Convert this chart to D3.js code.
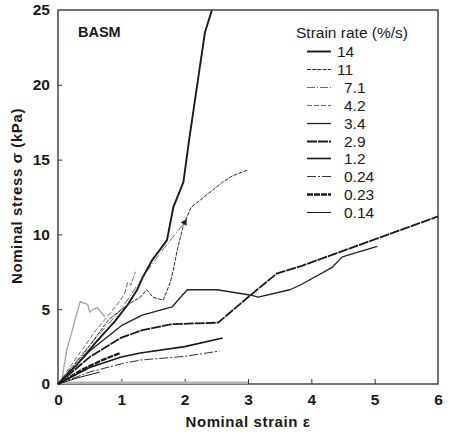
<!DOCTYPE html>
<html>
<head>
<meta charset="utf-8">
<script src="https://cdn.jsdelivr.net/npm/d3@7"></script>
<style>
  body { margin: 0; background: #fff; }
  svg { font-family: "Liberation Sans", Arial, sans-serif; }
</style>
</head>
<body>
<div id="chart"></div>
<script>
// data: [strain, stress]
var rates = ["14", "11", "7.1", "4.2", "3.4", "2.9", "1.2", "0.24", "0.23", "0.14"];

var s14 = [[0,0],[0.3,1.3],[0.6,2.8],[0.9,4.2],[1.1,5.3],[1.25,6.3],[1.34,7.15],[1.49,8.3],[1.72,9.6],[1.82,11.8],[1.98,13.5],[2.07,16.3],[2.32,23.5],[2.43,25]];
var s11 = [[0,0],[0.4,2.0],[0.8,4.3],[1.1,5.3],[1.3,5.8],[1.4,6.3],[1.5,5.8],[1.66,5.6],[1.77,6.75],[1.82,7.6],[1.88,8.9],[1.98,10.6],[2.1,11.8],[2.6,13.5],[2.75,13.9],[2.99,14.3]];
var s7_1 = [[0,0],[0.5,2.6],[1.0,5.0],[1.33,7.1],[1.66,9.0],[2.0,10.8]];
var s4_2 = [[0,0],[0.3,1.8],[0.6,3.6],[0.8,4.6],[0.95,5.4],[1.05,6.0],[1.1,6.8],[1.15,6.6],[1.22,7.5]];
var s3_4 = [[0,0],[0.5,2.2],[1.0,3.9],[1.33,4.6],[1.8,5.15],[2.04,6.3],[2.51,6.3],[3.03,5.95],[3.16,5.8],[3.66,6.3],[3.82,6.6],[4.33,7.8],[4.49,8.5],[5.04,9.2]];
var s2_9 = [[0,0],[0.5,1.8],[1.0,3.1],[1.33,3.6],[1.8,4.0],[2.53,4.1],[3.0,5.8],[3.46,7.4],[3.85,7.9],[6.0,11.2]];
var s1_2 = [[0,0],[0.5,1.1],[1.0,1.8],[1.3,2.07],[2.0,2.5],[2.6,3.07]];
var s0_24 = [[0,0],[0.5,0.8],[1.0,1.35],[1.3,1.6],[2.0,1.85],[2.55,2.2]];
var s0_23 = [[0,0],[0.4,1.0],[0.7,1.6],[0.98,2.07]];
var s0_14 = [[0,0],[0.3,0.4],[0.66,0.8]];
// grey traces (not in legend)
var sGrey = [[0,0],[0.06,0.3],[0.14,2.3],[0.2,3.2],[0.27,4.3],[0.35,5.5],[0.42,5.4],[0.47,5.3],[0.5,4.8],[0.56,5.0],[0.62,5.1],[0.68,4.8],[0.74,4.5]];
var sGreyBase = [[0,0.08],[3.0,0.08]];

var xTicks = [0, 1, 2, 3, 4, 5, 6];
var yTicks = [0, 5, 10, 15, 20, 25];

var allSeries = [s14, s11, s7_1, s4_2, s3_4, s2_9, s1_2, s0_24, s0_23, s0_14];
// line styles per strain rate
var styles = [
  { w: 1.9, dash: null, c: "#1a1a1a" },
  { w: 1.0, dash: "4,1.2", c: "#2a2a2a" },
  { w: 0.8, dash: "8,2,1,2", c: "#444" },
  { w: 0.8, dash: "5,2", c: "#444" },
  { w: 1.3, dash: null, c: "#222" },
  { w: 1.8, dash: "10,1", c: "#1a1a1a" },
  { w: 1.6, dash: null, c: "#1a1a1a" },
  { w: 1.0, dash: "9,2,2,2", c: "#333" },
  { w: 2.3, dash: "6,1", c: "#1a1a1a" },
  { w: 1.0, dash: null, c: "#1a1a1a" }
];

var width = 450, height = 434;
var svg = d3.select("#chart").append("svg")
  .attr("width", width).attr("height", height);

var x = d3.scaleLinear().domain([0, 6]).range([58, 438]);
var y = d3.scaleLinear().domain([0, 25]).range([384, 10]);

// frame
svg.append("rect")
  .attr("x", x(0)).attr("y", y(25))
  .attr("width", x(6) - x(0)).attr("height", y(0) - y(25))
  .attr("fill", "none").attr("stroke", "#444").attr("stroke-width", 1.5);

// axes with inward ticks
var xAxis = svg.append("g").attr("transform", "translate(0," + y(0) + ")")
  .call(d3.axisBottom(x).tickValues(xTicks).tickSize(-5).tickPadding(10).tickFormat(d3.format("d")));
var yAxis = svg.append("g").attr("transform", "translate(" + x(0) + ",0)")
  .call(d3.axisLeft(y).tickValues(yTicks).tickSize(-4).tickPadding(8).tickFormat(d3.format("d")));

[xAxis, yAxis].forEach(function (g) {
  g.select(".domain").remove();
  g.selectAll(".tick line").attr("stroke", "#333").attr("stroke-width", 1);
  g.selectAll(".tick text")
    .attr("fill", "#1a1a1a")
    .style("font-size", "15.5px").style("font-weight", "bold")
    .style("font-family", "'Liberation Sans', Arial, sans-serif");
});
xAxis.selectAll(".tick").filter(function (d) { return d === 0 || d === 6; }).select("line").remove();
yAxis.selectAll(".tick").filter(function (d) { return d === 0 || d === 25; }).select("line").remove();

// axis titles
svg.append("text")
  .attr("x", 248).attr("y", 427)
  .attr("text-anchor", "middle")
  .style("font-size", "15px").style("font-weight", "bold")
  .style("letter-spacing", "0.6px")
  .attr("fill", "#1a1a1a")
  .text("Nominal  strain  ε");

svg.append("text")
  .attr("transform", "translate(22,196) rotate(-90)")
  .attr("text-anchor", "middle")
  .style("font-size", "15px").style("font-weight", "bold")
  .style("letter-spacing", "0.6px")
  .attr("fill", "#1a1a1a")
  .text("Nominal stress σ (kPa)");

svg.append("text")
  .attr("x", 78).attr("y", 37)
  .style("font-size", "14.5px").style("font-weight", "bold")
  .attr("fill", "#1a1a1a")
  .text("BASM");

var line = d3.line()
  .x(function (d) { return x(d[0]); })
  .y(function (d) { return y(d[1]); });

// grey traces
svg.append("path").attr("d", line(sGreyBase))
  .attr("fill", "none").attr("stroke", "#b5b5b5").attr("stroke-width", 2.5);
svg.append("path").attr("d", line(sGrey))
  .attr("fill", "none").attr("stroke", "#a8a8a8").attr("stroke-width", 1.4)
  .attr("stroke-linejoin", "round");

// curves
allSeries.forEach(function (pts, i) {
  var st = styles[i];
  svg.append("path").attr("d", line(pts))
    .attr("fill", "none").attr("stroke", st.c)
    .attr("stroke-width", st.w)
    .attr("stroke-dasharray", st.dash)
    .attr("stroke-linejoin", "round");
});

// small mark at end of 7.1 curve
var endPt = s7_1[s7_1.length - 1];
svg.append("path")
  .attr("d", d3.symbol().type(d3.symbolTriangle).size(20)())
  .attr("transform", "translate(" + x(endPt[0]) + "," + y(endPt[1]) + ") rotate(30)")
  .attr("fill", "#222");

// legend
var legend = svg.append("g");
legend.append("text")
  .attr("x", 296).attr("y", 38)
  .style("font-size", "15.5px").attr("fill", "#1a1a1a")
  .text("Strain rate (%/s)");

rates.forEach(function (r, i) {
  var ly = Math.round(51 + i * 17.9) + 0.5;
  var st = styles[i];
  legend.append("line")
    .attr("x1", 307).attr("x2", 331).attr("y1", ly).attr("y2", ly)
    .attr("stroke", st.c).attr("stroke-width", st.w)
    .attr("stroke-dasharray", st.dash);
  legend.append("text")
    .attr("x", i < 2 ? 337 : 344).attr("y", ly + 5)
    .style("font-size", "15.5px").attr("fill", "#1a1a1a")
    .text(r);
});
</script>
</body>
</html>
